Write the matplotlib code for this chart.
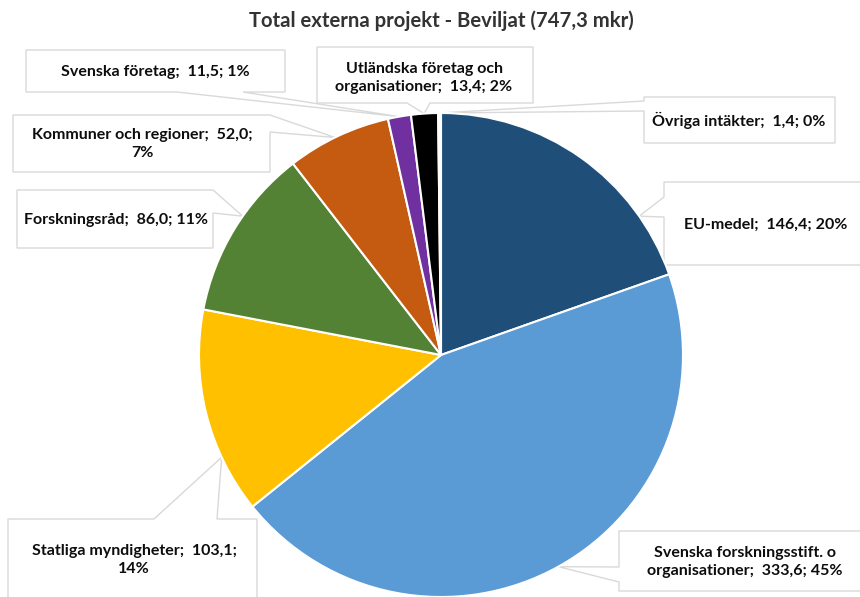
import matplotlib.pyplot as plt
from matplotlib.patches import Polygon
import numpy as np

plt.rcParams['font.family'] = ['Lato', 'DejaVu Sans']

title = 'Total externa projekt - Beviljat (747,3 mkr)'
names = ['EU-medel', 'Svenska forskningsstift. o\norganisationer', 'Statliga myndigheter',
         'Forskningsråd', 'Kommuner och regioner', 'Svenska företag',
         'Utländska företag och\norganisationer', 'Övriga intäkter']
values = [146.4, 333.6, 103.1, 86.0, 52.0, 11.5, 13.4, 1.4]
percents = [20, 45, 14, 11, 7, 1, 2, 0]
colors = ['#1F4E79', '#5B9BD5', '#FFC000', '#548235', '#C55A11', '#7030A0', '#000000', '#FFFFFF']

W, H = 860, 597
cx, cy, r = 441, 355, 242   # pie centre / radius in pixels (y down)


def P(x, y):
    return (x, H - y)


def tip_point(angle):
    # angle clockwise from 12 o'clock, point on the pie rim
    a = np.radians(angle)
    return (cx + r * np.sin(a), H - (cy - r * np.cos(a)))


# callout outlines in pixels, 'T' = where the pointer meets the pie
callouts = [
    dict(poly=[(664, 182), (862, 182), (862, 265), (664, 265), (664, 217), 'T', (664, 197)],
         text=(766, 225), tip=55, wrap=False),
    dict(poly=[(619, 531), (862, 531), (862, 591), (619, 591), (619, 582), 'T', (619, 567)],
         text=(745, 562), tip=151, wrap=False),
    dict(poly=[(8, 519), (154, 519), 'T', (217, 519), (257, 519), (257, 600), (8, 600)],
         text=(134, 560), tip=245, wrap=True),
    dict(poly=[(17, 190), (213, 190), 'T', (213, 213), (213, 248), (17, 248)],
         text=(116, 220), tip=305, wrap=False),
    dict(poly=[(13, 115), (270, 115), 'T', (270, 132), (270, 172), (13, 172)],
         text=(142, 144), tip=334, wrap=True),
    dict(poly=[(26, 50), (285, 50), (285, 92), (243, 92), 'T', (177, 92), (26, 92)],
         text=(155, 72), tip=350, wrap=False),
    dict(poly=[(317, 47), (533, 47), (533, 103), (430, 103), 'T', (407, 103), (317, 103)],
         text=(424, 78), tip=356, wrap=False),
    dict(poly=[(644, 97), (835, 97), (835, 143), (644, 143), (644, 111), 'T', (644, 101)],
         text=(739, 120), tip=359.7, wrap=False),
]

fig = plt.figure(figsize=(W / 100, H / 100), dpi=100)
ax = fig.add_axes([0, 0, 1, 1])

ax.pie(values, colors=colors, startangle=90, counterclock=False,
       center=P(cx, cy), radius=r,
       wedgeprops=dict(edgecolor='white', linewidth=1.5, zorder=2))

for i, c in enumerate(callouts):
    pts = [tip_point(c['tip']) if p == 'T' else P(*p) for p in c['poly']]
    ax.add_patch(Polygon(pts, closed=True, facecolor='white', edgecolor='#D9D9D9',
                         linewidth=1.0, zorder=1))
    val = f'{values[i]:.1f}'.replace('.', ',')
    sep = '\n' if c['wrap'] else ' '
    label = f'{names[i]};  {val};{sep}{percents[i]}%'
    ax.text(*P(*c['text']), label, ha='center', va='center', fontsize=11.5,
            fontweight='bold', color='#0D0D0D', linespacing=1.3, zorder=3)

ax.text(*P(441, 21), title, ha='center', va='center', fontsize=14.6,
        fontweight='bold', color='#333333')

ax.set_xlim(0, W)
ax.set_ylim(0, H)
ax.set_aspect('equal')
ax.axis('off')

fig.savefig('out.png', dpi=100)
